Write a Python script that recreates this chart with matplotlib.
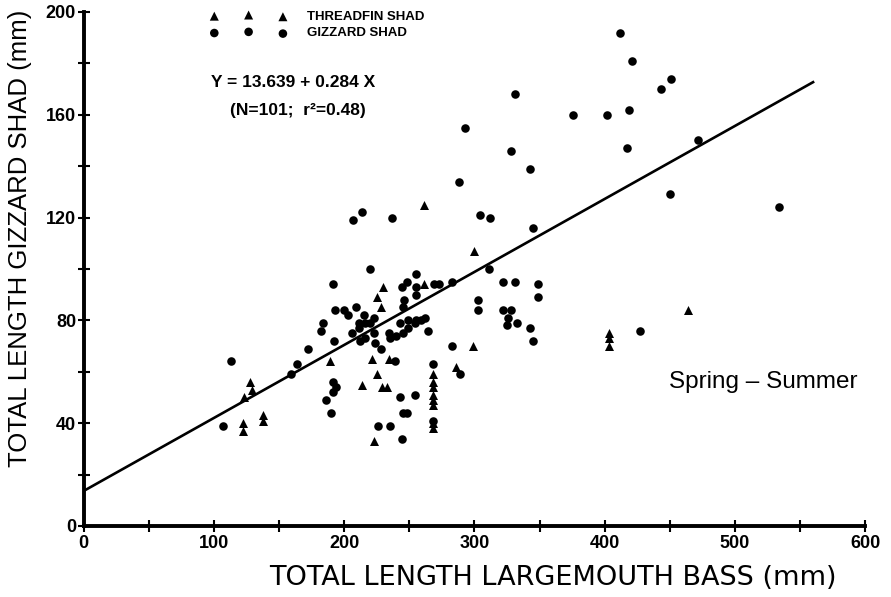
import matplotlib
matplotlib.use("Agg")
import matplotlib.pyplot as plt
from matplotlib.ticker import MultipleLocator

# ---- data ----
# Gizzard shad (circles): x = largemouth bass TL (mm), y = gizzard shad TL (mm)
gizzard_x = [113, 107, 159, 164, 172, 182, 184, 191, 192, 191, 194, 191, 186, 190,
             207, 214, 237, 220, 244, 248, 246, 193, 200, 203, 209, 215, 245,
             211, 211, 216, 220, 223, 243, 249, 206, 212, 216, 223, 234, 235, 240, 245, 249,
             224, 228, 239, 243, 245, 248, 226, 235, 244,
             288, 293, 304, 312, 311, 255, 269, 273, 283, 255, 255, 303, 303, 255, 254, 259,
             262, 264, 283, 289, 268, 254,
             331, 376, 402, 328, 343, 345, 322, 331, 349, 349, 322, 328, 326, 325, 333, 343, 345,
             412, 421, 443, 451, 419, 417, 472, 450, 534, 427, 268]
gizzard_y = [64, 39, 59, 63, 69, 76, 79, 94, 72, 56, 54, 52, 49, 44,
             119, 122, 120, 100, 93, 95, 88, 84, 84, 82, 85, 82, 85,
             79, 77, 79, 79, 81, 79, 80, 75, 72, 73, 75, 75, 73, 74, 75, 77,
             71, 69, 64, 50, 44, 44, 39, 39, 34,
             134, 155, 121, 120, 100, 98, 94, 94, 95, 93, 90, 88, 84, 80, 79, 80,
             81, 76, 70, 59, 63, 51,
             168, 160, 160, 146, 139, 116, 95, 95, 94, 89, 84, 84, 81, 78, 79, 77, 72,
             192, 181, 170, 174, 162, 147, 150, 129, 124, 76, 41]

# Threadfin shad (triangles)
threadfin_x = [122, 122, 138, 138, 128, 129, 123, 230, 225, 228, 189, 221, 234, 225, 214,
               229, 233, 223, 261, 300, 261, 299, 286, 268, 268, 268, 268, 268, 268, 268,
               268, 464, 403, 403, 403]
threadfin_y = [40, 37, 43, 41, 56, 53, 50, 93, 89, 85, 64, 65, 65, 59, 55,
               54, 54, 33, 125, 107, 94, 70, 62, 59, 56, 54, 51, 49, 47, 40,
               38, 84, 75, 73, 70]

# Regression (as printed on the chart)
intercept = 13.639
slope = 0.284
line_x = [0, 560]

x_ticks = [0, 100, 200, 300, 400, 500, 600]
y_ticks = [0, 40, 80, 120, 160, 200]

plt.rcParams['font.family'] = ['Liberation Sans', 'DejaVu Sans']

fig = plt.figure(figsize=(8.91, 5.97), dpi=100)
ax = fig.add_axes([0.094, 0.119, 0.877, 0.861])
ax.set_xlim(0, 600)
ax.set_ylim(0, 200)

for s in ['top', 'right']:
    ax.spines[s].set_visible(False)
for s in ['left', 'bottom']:
    ax.spines[s].set_linewidth(2.8)

ax.set_xticks(x_ticks)
ax.set_yticks(y_ticks)
ax.xaxis.set_minor_locator(MultipleLocator(50))
ax.yaxis.set_minor_locator(MultipleLocator(20))
ax.tick_params(which='both', direction='inout', length=9, width=1.5, color='black')
ax.tick_params(axis='x', pad=2)
ax.tick_params(axis='y', pad=1)
for lab in ax.get_xticklabels() + ax.get_yticklabels():
    lab.set_fontweight('bold')
    lab.set_fontsize(13)

ax.plot(line_x, [intercept + slope * v for v in line_x], color='black', lw=1.9, zorder=2)

ax.scatter(gizzard_x, gizzard_y, marker='o', s=38, color='black', linewidths=0,
           label='GIZZARD SHAD', zorder=3, clip_on=False)
ax.scatter(threadfin_x, threadfin_y, marker='^', s=42, color='black', linewidths=0,
           label='THREADFIN SHAD', zorder=3, clip_on=False)

handles, labels = ax.get_legend_handles_labels()
leg = ax.legend(handles[::-1], labels[::-1], scatterpoints=3, frameon=False,
                loc='upper left', bbox_to_anchor=(0.162, 1.003), borderaxespad=0,
                borderpad=0, handlelength=5.8, handletextpad=1.5, labelspacing=0.35,
                prop={'weight': 'bold', 'size': 9.5})

ax.text(98, 172.4, 'Y = 13.639 + 0.284 X', fontsize=12.5, fontweight='bold',
        ha='left', va='center')
ax.text(112, 161.5, '(N=101;  r²=0.48)', fontsize=12.5, fontweight='bold',
        ha='left', va='center')
ax.text(522, 56, 'Spring – Summer', fontsize=17.5, ha='center', va='center')

ax.set_xlabel('TOTAL LENGTH LARGEMOUTH BASS (mm)', fontsize=19.5, family='DejaVu Sans')
ax.xaxis.set_label_coords(0.6, -0.076)
ax.set_ylabel('TOTAL LENGTH GIZZARD SHAD (mm)', fontsize=18.5)
ax.yaxis.set_label_coords(-0.066, 0.559)

fig.savefig('out.png', dpi=100)
